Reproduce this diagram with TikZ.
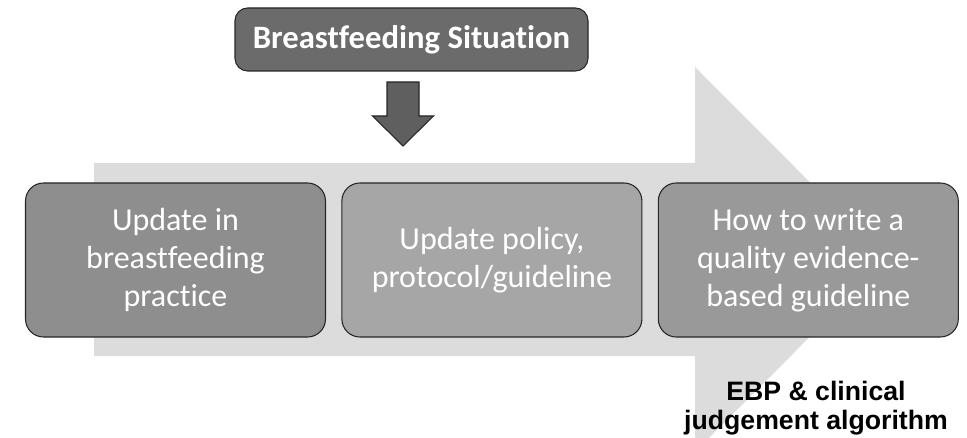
\documentclass[tikz,border=0pt]{standalone}
\usepackage{fontspec}
\setmainfont{Carlito}[Ligatures={NoCommon}]
\newfontfamily\arialfont{Liberation Sans}
\usepackage{xcolor}
\usetikzlibrary{positioning,calc}

\definecolor{flowgray}{HTML}{DCDCDC}
\definecolor{titlegray}{HTML}{6B6B6B}
\definecolor{downgray}{HTML}{5F5F5F}
\definecolor{stepone}{HTML}{8E8E8E}
\definecolor{steptwo}{HTML}{A6A6A6}
\definecolor{stepthree}{HTML}{999999}

\begin{document}
\begin{tikzpicture}[
  x=0.75pt, y=-0.75pt,
  stepbox/.style={draw=black!85, line width=0.8pt, rounded corners=13.5pt, align=center, text=white,
    minimum width=225pt, minimum height=115.5pt, inner sep=0pt, font=\fontsize{24}{28.5}\selectfont},
  headbox/.style={draw=black!85, line width=0.8pt, rounded corners=9.5pt, fill=titlegray, text=white,
    minimum width=264.75pt, minimum height=47.25pt, inner sep=0pt, font=\fontsize{24.5}{29}\selectfont\bfseries},
  node distance=11.5pt
]
\useasboundingbox (0,0) rectangle (967,438);
\clip (0,0) rectangle (967,438);

% big process arrow behind the steps
\fill[flowgray] (94,163) -- (695,163) -- (695,67) -- (887,259.5) -- (695,452) -- (695,356) -- (94,356) -- cycle;

\node[headbox] (situation) at (411.5,39.5) {Breastfeeding Situation};

% block arrow down
\coordinate (dn) at (403,82);
\filldraw[fill=downgray, draw=black!85, line width=0.8pt]
  ($(dn)+(-16,0)$) -- ($(dn)+(16,0)$) -- ($(dn)+(16,34)$) -- ($(dn)+(30.5,34)$)
  -- ($(dn)+(0,64)$) -- ($(dn)+(-30.5,34)$) -- ($(dn)+(-16,34)$) -- cycle;

\node[stepbox, fill=stepone] (practice) at (175.5,260) {Update in\\breastfeeding\\practice};
\node[stepbox, fill=steptwo, right=of practice] (policy) {Update policy,\\protocol/guideline};
\node[stepbox, fill=stepthree, right=of policy] (howto) {How to write a\\quality evidence-\\based guideline};

\node[anchor=north, inner sep=0pt, align=center, font=\arialfont\fontsize{20}{21.5}\selectfont\bfseries] (ebp) at (816,381)
  {EBP \& clinical\\judgement algorithm};
\end{tikzpicture}
\end{document}
